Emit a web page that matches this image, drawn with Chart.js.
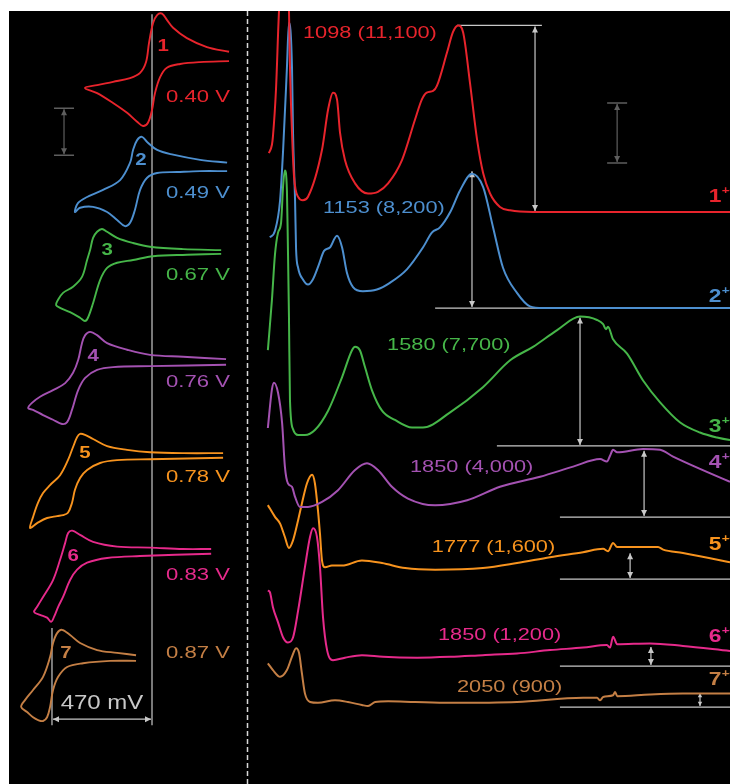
<!DOCTYPE html>
<html>
<head>
<meta charset="utf-8">
<script src="https://cdn.jsdelivr.net/npm/chart.js@4.4.1/dist/chart.umd.min.js"></script>
<style>
    body { margin: 0; background: #fff; width: 730px; height: 784px; overflow: hidden; position: relative; }
    canvas { position: absolute; top: 11px; background: #000; }
    #cvChart { left: 9px; }
    #specChart { left: 249px; }
</style>
</head>
<body>
<canvas id="cvChart" width="240" height="773"></canvas>
<canvas id="specChart" width="481" height="773"></canvas>
<script>
// Boje i oznake jedinjenja
let boje = ['#e8242c', '#4d8fcf', '#46b649', '#a452b2', '#f7931e', '#e62a8b', '#c47f45'];
let oznake = ['1', '2', '3', '4', '5', '6', '7'];

// CV - polutalasni potencijali (V)
let e12 = [0.40, 0.49, 0.67, 0.76, 0.78, 0.83, 0.87];
// pomak svake krive po struji (uA)
let cvPomak = [154.7, 131.3, 113.2, 89.8, 70.0, 49.4, 26.8];

// oblik svake CV krive: dE (mV) oko E1/2 i struja (uA)
let cvDE = [
    [-362, -258, -164, -99, -70, -47, -24, -5, 14, 28, 56, 103, 183, 258, 315, 258, 183, 117, 70, 42, 19, 0, -14, -38, -70, -132, -225, -362],
    [-443, -316, -189, -114, -67, -43, -20, -1, 13, 60, 140, 215, 258, 272, 248, 187, 121, 74, 37, 13, -10, -34, -67, -114, -208, -316, -443],
    [-595, -416, -261, -181, -106, -59, -35, -12, 7, 21, 35, 59, 101, 148, 172, 181, 162, 115, 68, 45, 31, 7, -26, -59, -106, -181, -275, -435, -595],
    [-708, -506, -351, -243, -149, -102, -69, -46, -31, -13, 11, 48, 105, 166, 204, 222, 199, 152, 105, 63, 39, 16, -13, -46, -102, -177, -351, -708],
    [-714, -526, -371, -263, -169, -103, -65, -42, -28, -9, 15, 52, 99, 132, 156, 179, 193, 160, 113, 66, 38, 15, -4, -18, -42, -75, -136, -216, -371, -714],
    [-708, -576, -421, -266, -153, -92, -55, -36, -22, 2, 35, 82, 110, 124, 96, 63, 44, 30, 11, -12, -45, -78, -125, -219, -374, -708],
    [-395, -306, -212, -132, -85, -47, -24, -5, 9, 42, 89, 126, 145, 117, 89, 65, 42, 23, 9, -5, -29, -71, -146, -273, -395]
];
let cvI = [
    [1.1, 2.1, 4.0, 6.2, 7.9, 9.2, 8.9, 7.2, 3.0, -1.1, -3.4, -4.5, -5.3, -6.0, -6.6, -7.7, -9.8, -11.9, -13.8, -14.7, -14.0, -11.3, -7.7, -4.3, -2.3, -1.5, -1.1, -0.9],
    [0.9, 1.5, 2.6, 3.6, 5.3, 6.4, 5.7, 3.6, 0.9, -2.8, -4.9, -6.4, -7.7, -9.6, -8.7, -8.5, -9.6, -11.3, -12.6, -11.9, -9.1, -4.9, -2.3, -1.3, -1.1, -0.9, -0.9],
    [0.4, 0.6, 1.1, 1.9, 3.0, 4.3, 4.9, 4.3, 3.0, 0.4, -1.7, -5.3, -7.4, -8.7, -10.2, -11.3, -11.9, -12.8, -14.0, -14.7, -14.0, -10.9, -6.0, -3.4, -2.3, -1.7, -0.9, -0.6, -0.4],
    [0.6, 1.1, 1.5, 2.6, 4.0, 5.7, 6.4, 5.7, 4.0, 0.4, -2.3, -4.5, -6.0, -7.4, -8.7, -9.8, -10.2, -11.3, -12.3, -13.2, -12.8, -10.2, -6.0, -3.4, -1.7, -1.1, -0.9, -0.6],
    [0.4, 0.4, 0.6, 1.1, 1.9, 3.4, 4.3, 4.5, 3.8, 1.7, -1.1, -4.3, -6.4, -8.1, -10.2, -13.2, -15.5, -14.5, -13.4, -13.0, -12.8, -12.3, -10.2, -7.4, -4.9, -3.2, -1.7, -1.1, -0.9, -0.6],
    [0.6, 0.6, 0.9, 1.1, 2.1, 3.6, 4.5, 4.0, 1.9, -1.7, -6.0, -9.6, -11.7, -12.8, -13.4, -14.0, -14.9, -13.8, -11.7, -9.6, -6.0, -3.8, -2.3, -1.3, -0.9, -0.4],
    [0.6, 1.1, 1.7, 3.2, 4.9, 6.0, 5.3, 3.2, 0.2, -4.0, -6.8, -8.9, -10.4, -11.5, -12.6, -13.2, -13.4, -12.6, -10.4, -6.8, -4.0, -1.9, -1.1, -0.6, -0.6]
];

// Spektri - talasna duzina (nm) i epsilon (10^3 M-1 cm-1)
let spNm = [
    [354, 366, 370, 382, 394, 404, 413, 423, 433, 437, 445, 453, 469, 488, 508, 563, 587, 606, 622, 634, 653, 693, 744, 783, 823, 878, 929, 956, 975, 1000, 1015, 1055, 1078, 1098, 1118, 1145, 1173, 1197, 1224, 1263, 1303, 1393, 2200],
    [358, 378, 398, 410, 425, 433, 445, 449, 457, 461, 469, 488, 508, 527, 551, 571, 594, 622, 642, 661, 685, 724, 779, 830, 897, 960, 996, 1027, 1067, 1106, 1153, 1197, 1236, 1275, 1330, 1381, 1433, 2200],
    [350, 366, 378, 390, 402, 410, 417, 425, 429, 433, 437, 449, 469, 496, 535, 587, 642, 681, 693, 712, 732, 760, 799, 850, 917, 960, 1067, 1196, 1303, 1393, 1488, 1578, 1645, 1669, 1680, 1688, 1708, 1763, 1826, 1893, 1972, 2050, 2117, 2168, 2200],
    [350, 366, 374, 390, 406, 417, 429, 445, 457, 476, 508, 563, 626, 693, 740, 783, 838, 901, 1008, 1134, 1263, 1421, 1551, 1657, 1684, 1696, 1708, 1724, 1826, 1893, 1944, 2168, 2200],
    [350, 378, 398, 417, 433, 449, 469, 484, 504, 524, 535, 547, 555, 563, 575, 602, 642, 720, 799, 890, 1008, 1196, 1330, 1460, 1590, 1669, 1688, 1708, 1724, 1787, 1885, 1905, 1983, 2168, 2200],
    [350, 358, 370, 390, 410, 429, 449, 469, 496, 516, 528, 543, 555, 567, 583, 606, 653, 720, 803, 937, 1067, 1196, 1330, 1460, 1590, 1684, 1696, 1708, 1724, 1854, 1983, 2168, 2200],
    [350, 370, 398, 425, 445, 461, 473, 484, 496, 516, 547, 614, 665, 720, 744, 772, 823, 929, 1067, 1330, 1590, 1645, 1657, 1669, 1708, 1716, 1724, 1854, 1983, 2168, 2200]
];
let spEps = [
    [3.5, 4.0, 4.5, 7.3, 12.0, 13.8, 15.3, 13.8, 12.0, 8.6, 4.7, 2.1, 0.9, 0.7, 0.9, 3.7, 6.1, 7.1, 6.7, 4.7, 3.1, 1.7, 1.1, 1.2, 1.7, 3.1, 5.5, 6.7, 7.1, 7.2, 7.5, 9.5, 10.7, 11.1, 10.7, 7.7, 4.3, 2.3, 1.1, 0.3, 0.1, 0, 0],
    [4.2, 4.6, 6.4, 9.4, 14.3, 17.0, 14.3, 10.4, 6.4, 3.5, 2.4, 1.7, 1.4, 1.7, 2.6, 3.4, 3.6, 4.3, 3.6, 2.1, 1.25, 1.0, 1.1, 1.5, 2.3, 3.6, 4.5, 4.8, 5.7, 7.0, 8.0, 7.2, 4.8, 2.4, 0.9, 0.1, 0, 0],
    [5.7, 8.7, 11.4, 12.7, 13.3, 15.5, 16.4, 15.2, 11.7, 7.7, 2.7, 1.0, 0.65, 0.65, 0.95, 2.1, 4.1, 5.7, 5.9, 5.7, 4.7, 3.3, 2.1, 1.55, 1.1, 1.1, 2.0, 3.5, 5.1, 5.9, 6.9, 7.7, 7.5, 7.25, 6.95, 7.1, 6.35, 5.5, 3.9, 2.6, 1.4, 0.8, 0.5, 0.35, 0.3],
    [5.3, 7.6, 8.0, 7.4, 5.6, 3.0, 2.0, 1.8, 1.2, 0.6, 0.6, 0.9, 1.6, 2.8, 3.2, 2.8, 1.8, 1.1, 0.7, 1.0, 1.8, 2.4, 3.0, 3.45, 3.3, 3.65, 4.0, 3.85, 4.05, 4.0, 3.6, 2.1, 1.9],
    [4.4, 3.7, 3.3, 2.5, 1.85, 2.3, 3.5, 4.5, 5.7, 6.2, 5.7, 4.1, 2.7, 1.1, 0.7, 0.8, 0.8, 1.1, 0.95, 0.65, 0.55, 0.65, 0.95, 1.3, 1.6, 1.8, 1.65, 2.15, 1.9, 1.9, 1.9, 1.75, 1.55, 1.0, 0.9],
    [4.5, 4.4, 3.5, 2.6, 1.7, 1.4, 1.7, 3.3, 5.9, 7.7, 8.2, 7.7, 5.9, 2.9, 0.95, 0.35, 0.5, 0.65, 0.55, 0.5, 0.55, 0.65, 0.75, 0.95, 1.1, 1.25, 1.1, 1.75, 1.3, 1.35, 1.2, 0.9, 0.85],
    [2.6, 2.2, 1.8, 2.2, 3.0, 3.5, 3.2, 2.0, 0.8, 0.3, 0.25, 0.4, 0.3, 0.12, 0.06, 0.3, 0.35, 0.3, 0.25, 0.3, 0.55, 0.55, 0.4, 0.6, 0.7, 0.9, 0.65, 0.75, 0.8, 0.8, 0.8]
];
// pomak svakog spektra (ista jedinica kao epsilon)
let spPomak = [34.05, 28.33, 20.12, 15.89, 12.20, 7.02, 4.58];

// maksimumi (nm) i epsilon (M-1 cm-1) iz oznaka
let pikNm = [1098, 1153, 1580, 1850, 1777, 1850, 2050];
let pikEps = [11100, 8200, 7700, 4000, 1600, 1200, 900];
// polozaj strelica (nm)
let strelicaNm = [1401, 1153, 1578, 1830, 1775, 1857, 2050];

// Pomocne funkcije za crtanje
function tekst(ctx, t, x, y, font, boja, poravnanje, sx) {
    ctx.save();
    ctx.translate(x, y);
    ctx.scale(sx, 1);
    ctx.font = font;
    ctx.fillStyle = boja;
    ctx.textAlign = poravnanje;
    ctx.textBaseline = 'middle';
    ctx.fillText(t, 0, 0);
    ctx.restore();
}

function vrh(ctx, fx, fy, tx, ty, L) {
    let a = Math.atan2(ty - fy, tx - fx);
    let W = L / 2;
    ctx.beginPath();
    ctx.moveTo(tx, ty);
    ctx.lineTo(tx - L * Math.cos(a) + W * Math.sin(a), ty - L * Math.sin(a) - W * Math.cos(a));
    ctx.lineTo(tx - L * Math.cos(a) - W * Math.sin(a), ty - L * Math.sin(a) + W * Math.cos(a));
    ctx.closePath();
    ctx.fill();
}

function strelica(ctx, x1, y1, x2, y2, boja) {
    let duz = Math.hypot(x2 - x1, y2 - y1);
    let L = Math.min(6, duz / 3);
    ctx.save();
    ctx.strokeStyle = boja;
    ctx.fillStyle = boja;
    ctx.lineWidth = 1.2;
    ctx.beginPath();
    ctx.moveTo(x1, y1);
    ctx.lineTo(x2, y2);
    ctx.stroke();
    vrh(ctx, x1, y1, x2, y2, L);
    vrh(ctx, x2, y2, x1, y1, L);
    ctx.restore();
}

function skala(ctx, x, y1, y2, boja) {
    ctx.save();
    ctx.strokeStyle = boja;
    ctx.lineWidth = 1.5;
    ctx.beginPath();
    ctx.moveTo(x - 10, y1); ctx.lineTo(x + 10, y1);
    ctx.moveTo(x - 10, y2); ctx.lineTo(x + 10, y2);
    ctx.stroke();
    ctx.restore();
    strelica(ctx, x, y1 + 1, x, y2 - 1, boja);
}

let siva = '#c8c8c8';
let tamnoSiva = '#5e5e5e';
let fontLab = '"Liberation Sans", Arial, sans-serif';

// CV grafik
let cvDatasets = [];
for (let k = 0; k < e12.length; k++) {
    let tacke = cvDE[k].map(function (d, j) {
        return { x: e12[k] + d / 1000, y: cvPomak[k] + cvI[k][j] };
    });
    cvDatasets.push({
        data: tacke,
        showLine: true,
        borderColor: boje[k],
        borderWidth: 1.9,
        pointRadius: 0,
        tension: 0.35
    });
}

let cvOznake = {
    id: 'cvOznake',
    beforeDatasetsDraw: function (chart) {
        let ctx = chart.ctx;
        let x = chart.scales.x;
        let y = chart.scales.y;
        let ca = chart.chartArea;

        // isprekidana linija
        ctx.save();
        ctx.strokeStyle = '#d8d8d8';
        ctx.lineWidth = 1.5;
        ctx.setLineDash([5, 3]);
        ctx.beginPath();
        ctx.moveTo(ca.right - 1.5, ca.top);
        ctx.lineTo(ca.right - 1.5, ca.bottom);
        ctx.stroke();
        ctx.restore();

        // vertikalne linije za E1/2 prvog i poslednjeg
        let xa = x.getPixelForValue(e12[0]);
        let xb = x.getPixelForValue(e12[6]);
        ctx.save();
        ctx.strokeStyle = siva;
        ctx.lineWidth = 1.2;
        ctx.beginPath();
        ctx.moveTo(xa, y.getPixelForValue(163.8));
        ctx.lineTo(xa, y.getPixelForValue(12.5));
        ctx.moveTo(xb, y.getPixelForValue(33.2));
        ctx.lineTo(xb, y.getPixelForValue(12.5));
        ctx.stroke();
        ctx.restore();
        strelica(ctx, xb + 1, y.getPixelForValue(13.8), xa - 1, y.getPixelForValue(13.8), siva);
        let razlika = Math.round((e12[6] - e12[0]) * 1000);
        tekst(ctx, razlika + ' mV', (xa + xb) / 2, y.getPixelForValue(17.2), '20px ' + fontLab, siva, 'center', 1.2);

        // skala struje
        skala(ctx, x.getPixelForValue(0.8135), y.getPixelForValue(143.8), y.getPixelForValue(133.8), tamnoSiva);
    },
    afterDatasetsDraw: function (chart) {
        let ctx = chart.ctx;
        let x = chart.scales.x;
        let y = chart.scales.y;
        let brPoz = [[0.348, 157.0], [0.452, 132.6], [0.611, 113.6], [0.677, 90.9], [0.715, 70.4], [0.771, 48.5], [0.804, 27.7]];
        let potY = [146.2, 125.7, 108.3, 85.5, 65.3, 44.5, 27.9];
        for (let k = 0; k < e12.length; k++) {
            tekst(ctx, oznake[k], x.getPixelForValue(brPoz[k][0]), y.getPixelForValue(brPoz[k][1]),
                'bold 17px ' + fontLab, boje[k], 'center', 1.2);
            tekst(ctx, e12[k].toFixed(2) + ' V', x.getPixelForValue(0.334), y.getPixelForValue(potY[k]),
                '17px ' + fontLab, boje[k], 'left', 1.3);
        }
    }
};

new Chart(document.getElementById('cvChart'), {
    type: 'scatter',
    data: { datasets: cvDatasets },
    options: {
        responsive: false,
        animation: false,
        events: [],
        layout: { padding: 0 },
        plugins: { legend: { display: false }, tooltip: { enabled: false } },
        scales: {
            x: { type: 'linear', display: false, reverse: true, min: -0.0558, max: 1.072 },
            y: { type: 'linear', display: false, min: 0, max: 164.47 }
        }
    },
    plugins: [cvOznake]
});

// Grafik spektara
let spDatasets = [];
for (let k = 0; k < spNm.length; k++) {
    let tacke = spNm[k].map(function (nm, j) {
        return { x: nm, y: spPomak[k] + spEps[k][j] };
    });
    spDatasets.push({
        data: tacke,
        showLine: true,
        borderColor: boje[k],
        borderWidth: 2,
        pointRadius: 0,
        cubicInterpolationMode: 'monotone'
    });
}

let spOznake = {
    id: 'spOznake',
    beforeDatasetsDraw: function (chart) {
        let ctx = chart.ctx;
        let x = chart.scales.x;
        let y = chart.scales.y;
        let pocetak = [null, 1008, 1251, 1499, 1499, 1499, 1499];

        ctx.save();
        ctx.strokeStyle = siva;
        ctx.lineWidth = 1.2;
        ctx.beginPath();
        // gornja linija za 1
        let yTop = y.getPixelForValue(spPomak[0] + pikEps[0] / 1000);
        ctx.moveTo(x.getPixelForValue(1094), yTop);
        ctx.lineTo(x.getPixelForValue(1428), yTop);
        // bazne linije
        for (let k = 1; k < pocetak.length; k++) {
            let yb = y.getPixelForValue(spPomak[k]);
            ctx.moveTo(x.getPixelForValue(pocetak[k]), yb);
            ctx.lineTo(x.getPixelForValue(2200), yb);
        }
        ctx.stroke();
        ctx.restore();

        for (let k = 0; k < strelicaNm.length; k++) {
            let xs = x.getPixelForValue(strelicaNm[k]);
            strelica(ctx, xs, y.getPixelForValue(spPomak[k] + pikEps[k] / 1000) + 1, xs, y.getPixelForValue(spPomak[k]) - 1, siva);
        }

        // skala epsilon
        skala(ctx, x.getPixelForValue(1724), y.getPixelForValue(40.54), y.getPixelForValue(36.96), tamnoSiva);
    },
    afterDatasetsDraw: function (chart) {
        let ctx = chart.ctx;
        let x = chart.scales.x;
        let y = chart.scales.y;
        let labPoz = [[488, 44.70], [567, 34.29], [819, 26.13], [909, 18.87], [995, 14.11], [1019, 8.87], [1094, 5.77]];
        let desnoY = [34.94, 28.99, 21.25, 19.11, 14.23, 8.75, 6.19];
        for (let k = 0; k < pikNm.length; k++) {
            let t = pikNm[k] + ' (' + pikEps[k].toLocaleString('en-US') + ')';
            tekst(ctx, t, x.getPixelForValue(labPoz[k][0]), y.getPixelForValue(labPoz[k][1]),
                '17px ' + fontLab, boje[k], 'left', 1.28);
            let xd = x.getPixelForValue(2084);
            let yd = y.getPixelForValue(desnoY[k]);
            tekst(ctx, oznake[k], xd, yd, 'bold 19px ' + fontLab, boje[k], 'left', 1.2);
            tekst(ctx, '+\u2022', xd + 13, yd - 6, 'bold 11px ' + fontLab, boje[k], 'left', 1.2);
        }
    }
};

new Chart(document.getElementById('specChart'), {
    type: 'scatter',
    data: { datasets: spDatasets },
    options: {
        responsive: false,
        animation: false,
        events: [],
        layout: { padding: 0 },
        plugins: { legend: { display: false }, tooltip: { enabled: false } },
        scales: {
            x: { type: 'linear', display: false, min: 275.8, max: 2168 },
            y: { type: 'linear', display: false, min: 0, max: 46.01 }
        }
    },
    plugins: [spOznake]
});
</script>
</body>
</html>
